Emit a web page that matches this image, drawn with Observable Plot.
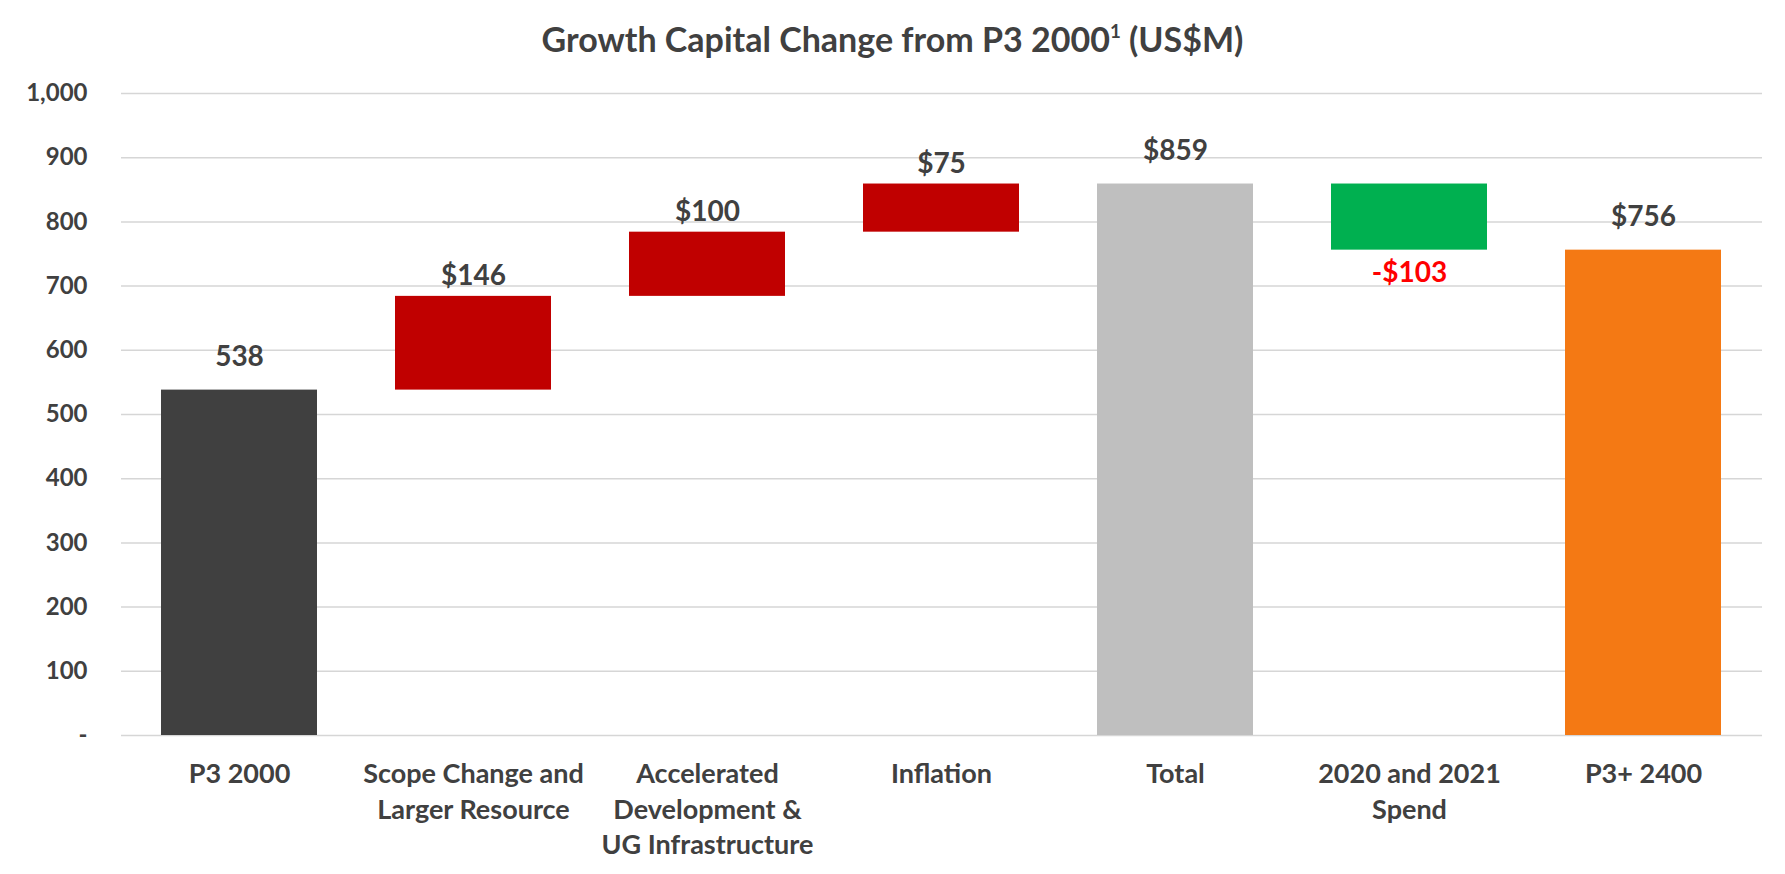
<!DOCTYPE html>
<html>
<head>
<meta charset="utf-8">
<script src="https://cdn.jsdelivr.net/npm/d3@7"></script>
<script src="https://cdn.jsdelivr.net/npm/@observablehq/plot@0.6"></script>
<style>
  html, body { margin: 0; padding: 0; background: #ffffff; }
  #title {
    width: 1785px; height: 70px; box-sizing: border-box;
    padding-top: 19px; text-align: center;
    font-family: Lato, "Open Sans", sans-serif; font-weight: 700;
    font-size: 34px; line-height: 40px; color: #404040;
  }
  #title sup { font-size: 0.55em; line-height: 0; vertical-align: 0.75em; }
</style>
</head>
<body>
<div id="title">Growth Capital Change from P3 2000<sup>1</sup> (US$M)</div>
<div id="chart"></div>
<script>
// ---- data ----
const categories = [
  "P3 2000",
  "Scope Change and\nLarger Resource",
  "Accelerated\nDevelopment &\nUG Infrastructure",
  "Inflation",
  "Total",
  "2020 and 2021\nSpend",
  "P3+ 2400"
];
const values = [538, 146, 100, 75, 859, -103, 756];
const kinds = ["start", "step", "step", "step", "total", "step", "end"];
const labels = ["538", "$146", "$100", "$75", "$859", "-$103", "$756"];
const yTicks = [0, 100, 200, 300, 400, 500, 600, 700, 800, 900, 1000];

// ---- build waterfall table ----
let running = 0;
const rows = categories.map((c, i) => {
  const v = values[i];
  let y1, y2;
  if (kinds[i] === "step") {
    y1 = running; y2 = running + v; running = y2;
  } else {
    y1 = 0; y2 = v; running = v;
  }
  const kind = kinds[i] === "step" ? (v >= 0 ? "up" : "down") : kinds[i];
  return {category: c, y1, y2, kind, label: labels[i],
          top: Math.max(y1, y2), bottom: Math.min(y1, y2)};
});

const colorOf = {start: "#404040", up: "#C00000", total: "#BFBFBF", down: "#00B050", end: "#F47914"};
const font = "Lato, 'Open Sans', sans-serif";

const chart = Plot.plot({
  width: 1785,
  height: 804,
  marginLeft: 121,
  marginRight: 23,
  marginTop: 23,
  marginBottom: 139,
  style: {fontFamily: font, fontWeight: 700, color: "#404040", background: "#ffffff"},
  x: {domain: categories, paddingInner: 0.333, paddingOuter: 0.1667, align: 0.5, label: null},
  y: {domain: [0, 1000], label: null},
  marks: [
    Plot.gridY(yTicks, {stroke: "#D6D6D6", strokeOpacity: 1, strokeWidth: 1.5}),
    Plot.barY(rows, {x: "category", y1: "y1", y2: "y2", fill: d => colorOf[d.kind]}),
    Plot.text(rows.filter(d => d.kind === "up"), {
      x: "category", y: "top", text: "label", lineAnchor: "bottom", dy: -11,
      fontSize: 28, fontWeight: 700, fill: "#404040"
    }),
    Plot.text(rows.filter(d => d.kind === "start" || d.kind === "total" || d.kind === "end"), {
      x: "category", y: "top", text: "label", lineAnchor: "bottom", dy: -24,
      fontSize: 28, fontWeight: 700, fill: "#404040"
    }),
    Plot.text(rows.filter(d => d.kind === "down"), {
      x: "category", y: "bottom", text: "label", lineAnchor: "top", dy: 12,
      fontSize: 28, fontWeight: 700, fill: "#FF0000"
    }),
    Plot.axisY({ticks: yTicks, tickSize: 0, tickPadding: 34, label: null,
      tickFormat: d => d === 0 ? "-" : d3.format(",")(d),
      fontSize: 24, fontWeight: 700, fill: "#404040"}),
    Plot.axisX({tickSize: 0, tickPadding: 23, label: null, lineHeight: 1.3,
      fontSize: 27, fontWeight: 700, fill: "#404040"})
  ]
});
document.getElementById("chart").appendChild(chart);
</script>
</body>
</html>
